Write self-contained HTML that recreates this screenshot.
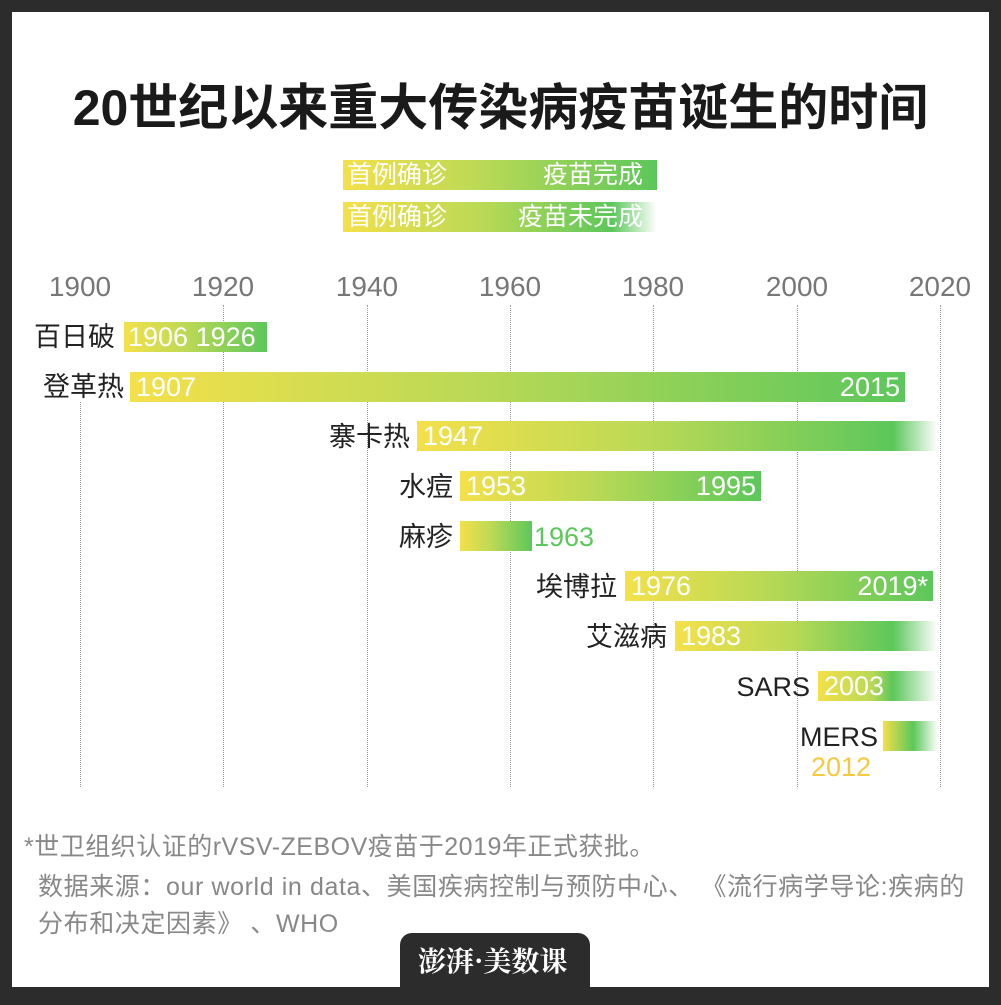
<!DOCTYPE html>
<html><head><meta charset="utf-8"><style>
*{margin:0;padding:0;box-sizing:border-box}
body{width:1001px;height:1005px;background:#2c2c2c;position:relative;overflow:hidden;font-family:"Liberation Sans","Noto Sans CJK SC",sans-serif}
#w{position:absolute;left:12px;top:12px;width:977px;height:975px;background:#fff}
.a{position:absolute;white-space:nowrap}
.t{font-size:28px;color:#777;top:271px;width:100px;text-align:center}
.v{position:absolute;top:305px;height:482px;border-left:1px dotted #999}
.bar{position:absolute;height:30px;background:linear-gradient(90deg,#f4e04a,#b9d956 45%,#5cc75b)}
.fade{background:linear-gradient(90deg,#f4e04a,#b9d956 45%,#5cc75b calc(100% - 45px),rgba(92,199,91,0) 100%)}
.n{position:absolute;font-size:27px;color:#fff;line-height:30px;top:0;white-space:nowrap}
.l{position:absolute;font-size:27px;color:#222;line-height:30px;text-align:right}
.f{position:absolute;font-size:25px;color:#888;white-space:nowrap}
</style></head><body>
<div id="w"></div>
<div class="a" style="left:0;width:1001px;top:68px;text-align:center;font-size:50px;font-weight:bold;color:#1a1a1a">20世纪以来重大传染病疫苗诞生的时间</div>
<div class="bar" style="left:343px;top:160px;width:314px"><span class="n" style="left:4px;font-size:25px">首例确诊</span><span class="n" style="right:14px;font-size:25px">疫苗完成</span></div>
<div class="bar fade" style="left:343px;top:202px;width:314px"><span class="n" style="left:4px;font-size:25px">首例确诊</span><span class="n" style="right:14px;font-size:25px">疫苗未完成</span></div>
<div class="a t" style="left:30px">1900</div><div class="a t" style="left:173px">1920</div><div class="a t" style="left:317px">1940</div><div class="a t" style="left:460px">1960</div><div class="a t" style="left:603px">1980</div><div class="a t" style="left:747px">2000</div><div class="a t" style="left:890px">2020</div>
<div class="v" style="left:80px;top:402px;height:385px"></div><div class="v" style="left:223px"></div><div class="v" style="left:367px"></div><div class="v" style="left:510px"></div><div class="v" style="left:653px"></div><div class="v" style="left:797px"></div><div class="v" style="left:940px"></div>

<div class="l" style="left:0;width:115px;top:322px">百日破</div>
<div class="bar" style="left:124px;top:322px;width:143px"><span class="n" style="left:4px">1906 1926</span></div>
<div class="l" style="left:0;width:124px;top:372px">登革热</div>
<div class="bar" style="left:130px;top:372px;width:775px"><span class="n" style="left:6px">1907</span><span class="n" style="right:5px">2015</span></div>
<div class="l" style="left:0;width:410px;top:422px">寨卡热</div>
<div class="bar fade" style="left:417px;top:421px;width:521px"><span class="n" style="left:6px">1947</span></div>
<div class="l" style="left:0;width:453px;top:472px">水痘</div>
<div class="bar" style="left:460px;top:471px;width:301px"><span class="n" style="left:6px">1953</span><span class="n" style="right:5px">1995</span></div>
<div class="l" style="left:0;width:453px;top:522px">麻疹</div>
<div class="bar" style="left:460px;top:521px;width:72px"></div>
<div class="a" style="left:534px;top:522px;font-size:27px;line-height:30px;color:#5cc75b">1963</div>
<div class="l" style="left:0;width:617px;top:572px">埃博拉</div>
<div class="bar" style="left:625px;top:571px;width:308px"><span class="n" style="left:6px">1976</span><span class="n" style="right:5px">2019*</span></div>
<div class="l" style="left:0;width:667px;top:622px">艾滋病</div>
<div class="bar fade" style="left:675px;top:621px;width:263px"><span class="n" style="left:6px">1983</span></div>
<div class="l" style="left:0;width:810px;top:672px">SARS</div>
<div class="bar fade" style="left:818px;top:671px;width:120px"><span class="n" style="left:6px">2003</span></div>
<div class="l" style="left:0;width:878px;top:722px">MERS</div>
<div class="bar fade" style="left:883px;top:721px;width:55px;background:linear-gradient(90deg,#f4e04a,#5cc75b 55%,rgba(92,199,91,0))"></div>
<div class="a" style="left:811px;top:752px;font-size:27px;line-height:30px;color:#f6c93f">2012</div>

<div class="f" style="left:24px;top:827px;letter-spacing:0.5px">*世卫组织认证的rVSV-ZEBOV疫苗于2019年正式获批。</div>
<div class="f" style="left:38px;top:867px;letter-spacing:0.6px">数据来源：our world in data、美国疾病控制与预防中心、 《流行病学导论:疾病的</div>
<div class="f" style="left:38px;top:904px;letter-spacing:0.6px">分布和决定因素》 、WHO</div>

<div style="position:absolute;left:400px;top:933px;width:190px;height:60px;background:#2c2c2c;border-radius:12px 12px 0 0"></div>
<div class="a" style="left:418px;top:940px;font-size:28px;font-weight:bold;color:#fff;font-family:'Noto Serif CJK SC','Noto Sans CJK SC',serif">澎湃·美数课</div>
</body></html>
